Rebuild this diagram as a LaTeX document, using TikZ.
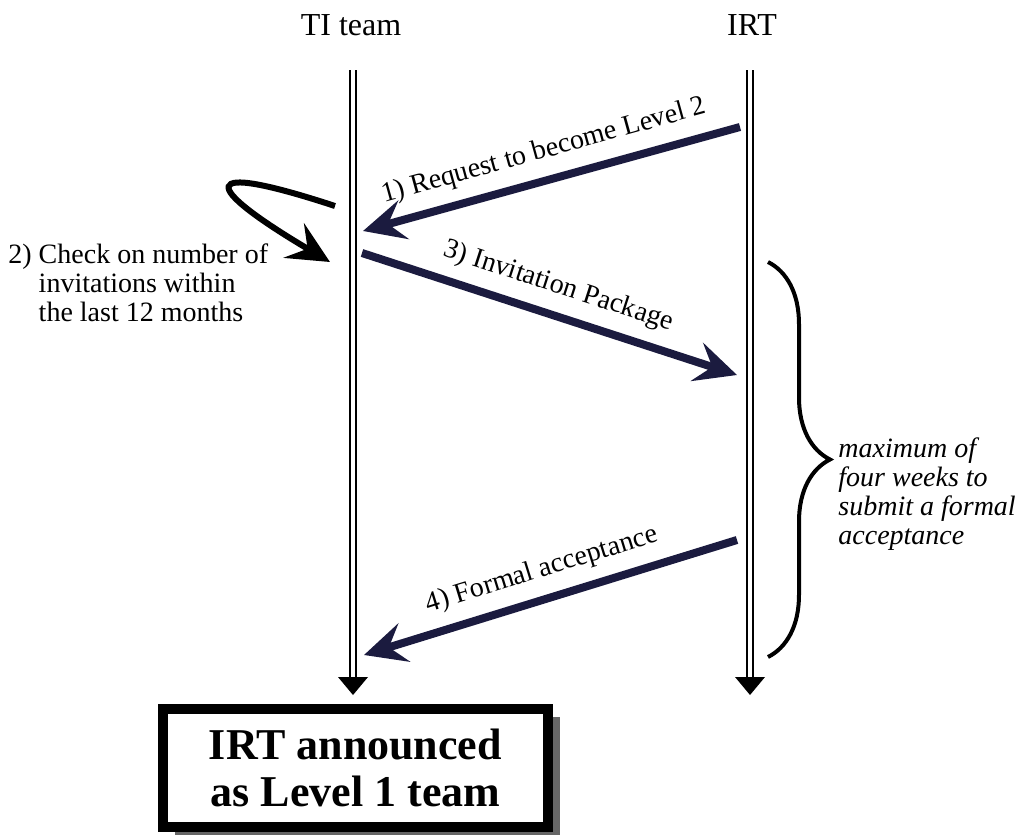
\documentclass[tikz,border=0pt]{standalone}
\usepackage{fontspec}
\setmainfont{Liberation Serif}
\usetikzlibrary{positioning,arrows.meta,decorations.pathreplacing,shadows}
\definecolor{msgblue}{HTML}{1B1B3F}

\begin{document}
\begin{tikzpicture}[x=0.5pt,y=-0.5pt,
 lifeline/.style={double,double distance=1.8pt,line width=1pt},
 message/.style={draw=msgblue,line width=4pt,-{Stealth[length=21pt,width=20pt,inset=8pt]}},
 msglabel/.style={sloped,above=6pt,font=\fontsize{14}{14}\selectfont,inner sep=0pt},
 head/.style={font=\fontsize{16}{16}\selectfont,inner sep=0pt}]
\useasboundingbox (0,0) rectangle (1019,835);

\node [head] (ti) at (351,25) {TI team};
\node [head] (irt) at (752,25) {IRT};

% lifelines
\coordinate (tiTop) at (353,70);
\coordinate (tiEnd) at (353,677);
\coordinate (irtTop) at (750,70);
\coordinate (irtEnd) at (750,677);
\draw [lifeline] (tiTop) -- (tiEnd);
\draw [lifeline] (irtTop) -- (irtEnd);
\fill ([xshift=-7.5pt]tiEnd) -- ([xshift=7.5pt]tiEnd) -- ([yshift=-9pt]tiEnd) -- cycle;
\fill ([xshift=-7.5pt]irtEnd) -- ([xshift=7.5pt]irtEnd) -- ([yshift=-9pt]irtEnd) -- cycle;

% messages
\coordinate (m1a) at (740,127);
\coordinate (m1b) at (363,231);
\coordinate (m3a) at (362,253);
\coordinate (m3b) at (737,375);
\coordinate (m4a) at (737,540);
\coordinate (m4b) at (364,655);
\draw [message] (m1a) -- node [msglabel] {1) Request to become Level 2} (m1b);
\draw [message] (m3a) -- node [msglabel] {3) Invitation Package} (m3b);
\draw [message] (m4a) -- node [msglabel] {4) Formal acceptance} (m4b);

% self check
\coordinate (chkOut) at (335,206);
\coordinate (chkIn) at (330,262);
\draw [line width=3pt,-{Stealth[length=21pt,width=20pt,inset=8pt]}] (chkOut) .. controls (195,160) and (200,185) .. (chkIn);
\node [anchor=north west,align=left,inner sep=0pt,font=\fontsize{14}{14.5}\selectfont] (check) at (8,243)
 {2) Check on number of\\\hphantom{2) }invitations within\\\hphantom{2) }the last 12 months};

% waiting time
\coordinate (braceTop) at (768,262);
\coordinate (braceBot) at (768,657);
\draw [decorate,decoration={brace,amplitude=31pt},line width=2pt] (braceTop) -- (braceBot);
\node [anchor=north west,align=left,inner sep=0pt,font=\fontsize{14}{14.5}\selectfont\itshape] (wait) at (838,437)
 {maximum of\\four weeks to\\submit a formal\\acceptance};

% result
\node [draw,line width=5pt,fill=white,minimum width=192.5pt,minimum height=59pt,align=center,
 font=\fontsize{22}{23.5}\selectfont\bfseries,
 drop shadow={shadow xshift=6pt,shadow yshift=-4pt,fill=black!60,opacity=1}] (result) at (355.5,768)
 {IRT announced\\as Level 1 team};
\end{tikzpicture}
\end{document}
